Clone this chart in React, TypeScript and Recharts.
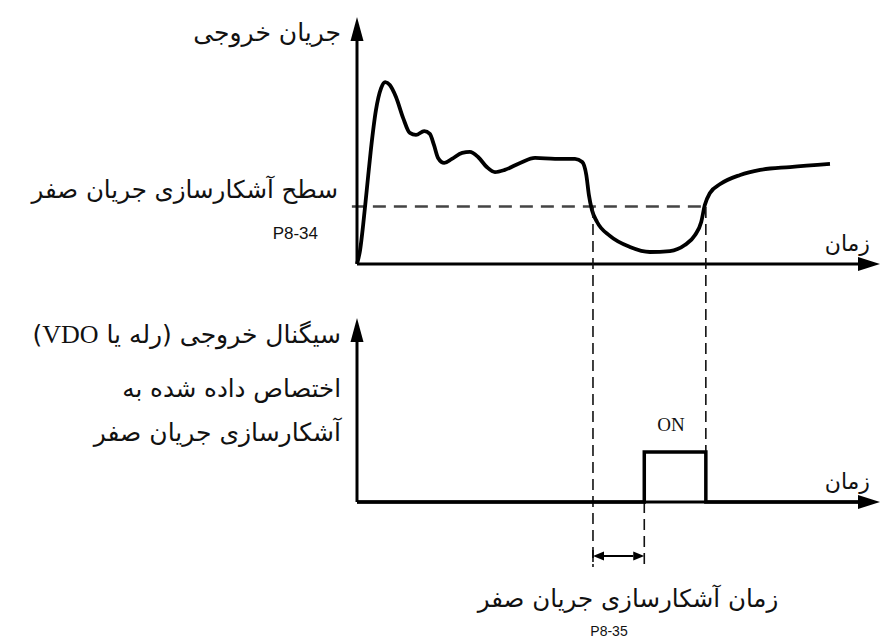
import React from "react";
import { LineChart, Line, XAxis, YAxis, ReferenceLine } from "recharts";

// output current over time (time 0..100, current 0..100)
const currentTime = [
  0, 0.6, 1.2, 1.9, 2.7, 3.7, 4.7, 5.5, 6.4, 7.6, 9.0, 10.3, 11.5, 13.1, 14.2, 15.0,
  15.8, 17.0, 18.5, 20.5, 22.0, 23.6, 25.3, 26.9, 28.8, 31.8, 34.7, 38.6, 42.5, 43.9,
  44.7, 45.2, 45.8, 46.8, 49.3, 53.2, 57.1, 61.0, 63.9, 65.9, 67.1, 67.8, 68.8, 70.8,
  74.7, 78.6, 84.4, 92.2,
];
const currentLevel = [
  0, 5.8, 16.3, 30.8, 47.5, 64.2, 73.3, 75.8, 74.6, 69.6, 60.8, 54.6, 53.8, 55.4, 54.2, 49.6,
  44.2, 42.1, 43.8, 46.3, 46.7, 44.6, 40.4, 38.3, 39.2, 42.1, 44.2, 43.8, 43.8, 42.5,
  37.1, 28.8, 22.5, 17.5, 11.7, 7.1, 5.0, 5.4, 7.9, 12.1, 17.5, 24.6, 29.6, 33.3,
  37.1, 39.2, 40.4, 41.7,
];

// relay / VDO output signal
const signalTime = [0, 56, 68, 100];
const signalLevel = [0, 1, 0, 0];

const thresholdLevel = 24; // P8-34
const belowThresholdAt = 46;
const signalOnAt = 56; // after P8-35 delay
const aboveThresholdAt = 68;

const currentData = currentTime.map((t, i) => ({ t, current: currentLevel[i] }));
const signalData = signalTime.map((t, i) => ({ t, signal: signalLevel[i] }));

const persianFont = "'DejaVu Sans', sans-serif";

function arrowShape(extra: number, width: number, len: number, sw: number, both = false) {
  return (p: any) => {
    const x1 = Number(p.x1), y1 = Number(p.y1), x2 = Number(p.x2), y2 = Number(p.y2);
    const dx = x2 - x1, dy = y2 - y1;
    const L = Math.hypot(dx, dy) || 1;
    const ux = dx / L, uy = dy / L;
    const nx = -uy, ny = ux;
    const head = (tx: number, ty: number, dirx: number, diry: number) => {
      const bx = tx - dirx * len, by = ty - diry * len;
      return `${tx},${ty} ${bx + (nx * width) / 2},${by + (ny * width) / 2} ${bx - (nx * width) / 2},${by - (ny * width) / 2}`;
    };
    const tipX = x2 + ux * extra, tipY = y2 + uy * extra;
    const startX = both ? x1 + ux * len : x1, startY = both ? y1 + uy * len : y1;
    return (
      <g>
        <line x1={startX} y1={startY} x2={tipX - ux * len} y2={tipY - uy * len} stroke="#000" strokeWidth={sw} />
        <polygon points={head(tipX, tipY, ux, uy)} fill="#000" />
        {both && <polygon points={head(x1, y1, -ux, -uy)} fill="#000" />}
        {both && <line x1={x1} y1={y1 - 6} x2={x1} y2={y1 + 6} stroke="#000" strokeWidth={1.5} />}
      </g>
    );
  };
}

function Txt({ right, cy, size, children, font = persianFont }: any) {
  return (
    <div
      dir="rtl"
      style={{
        position: "absolute",
        right: 880 - right,
        top: cy - size * 0.75,
        height: size * 1.5,
        lineHeight: `${size * 1.5}px`,
        fontSize: size,
        fontFamily: font,
        whiteSpace: "nowrap",
        color: "#111",
      }}
    >
      {children}
    </div>
  );
}

function CenterTxt({ cx, cy, size, children, font = persianFont, ltr = false }: any) {
  return (
    <div
      dir={ltr ? "ltr" : "rtl"}
      style={{
        position: "absolute",
        left: cx - 200,
        width: 400,
        textAlign: "center",
        top: cy - size * 0.75,
        lineHeight: `${size * 1.5}px`,
        fontSize: size,
        fontFamily: font,
        whiteSpace: "nowrap",
        color: "#111",
      }}
    >
      {children}
    </div>
  );
}

export default function App() {
  return (
    <div style={{ position: "absolute", left: 0, top: 0, width: 880, height: 641, background: "#fff", overflow: "hidden" }}>
      <style>{`.recharts-surface{overflow:visible}`}</style>

      <div style={{ position: "absolute", left: 0, top: 0 }}>
        <LineChart width={880} height={280} data={currentData} margin={{ top: 24, right: 10, left: 357, bottom: 16 }}>
          <XAxis dataKey="t" type="number" domain={[0, 100]} hide />
          <YAxis type="number" domain={[0, 100]} hide />
          <ReferenceLine
            segment={[{ x: -1, y: thresholdLevel }, { x: aboveThresholdAt, y: thresholdLevel }]}
            ifOverflow="visible"
            stroke="#444"
            strokeWidth={2.5}
            strokeDasharray="13 8"
          />
          <ReferenceLine segment={[{ x: 0, y: 0 }, { x: 100, y: 0 }]} ifOverflow="visible" shape={arrowShape(10, 14, 22, 3)} />
          <ReferenceLine segment={[{ x: 0, y: 0 }, { x: 0, y: 100 }]} ifOverflow="visible" shape={arrowShape(7, 13, 24, 3)} />
          <Line
            dataKey="current"
            type="monotone"
            stroke="#000"
            strokeWidth={3.8}
            dot={false}
            activeDot={false}
            isAnimationActive={false}
          />
        </LineChart>
      </div>

      <div style={{ position: "absolute", left: 0, top: 300 }}>
        <LineChart width={880} height={341} data={signalData} margin={{ top: 27, right: 10, left: 357, bottom: 139 }}>
          <XAxis dataKey="t" type="number" domain={[0, 100]} hide />
          <YAxis type="number" domain={[0, 3.5]} hide />
          <ReferenceLine
            segment={[{ x: belowThresholdAt, y: 5.9 }, { x: belowThresholdAt, y: -1.3 }]}
            ifOverflow="visible"
            stroke="#111"
            strokeWidth={1.6}
            strokeDasharray="11 6"
          />
          <ReferenceLine
            segment={[{ x: aboveThresholdAt, y: 5.9 }, { x: aboveThresholdAt, y: 1 }]}
            ifOverflow="visible"
            stroke="#111"
            strokeWidth={1.6}
            strokeDasharray="11 6"
          />
          <ReferenceLine
            segment={[{ x: signalOnAt, y: 0 }, { x: signalOnAt, y: -1.3 }]}
            ifOverflow="visible"
            stroke="#111"
            strokeWidth={1.6}
            strokeDasharray="11 6"
          />
          <ReferenceLine
            segment={[{ x: belowThresholdAt, y: -1.08 }, { x: signalOnAt, y: -1.08 }]}
            ifOverflow="visible"
            shape={arrowShape(0, 9, 11, 2, true)}
          />
          <ReferenceLine segment={[{ x: 0, y: 0 }, { x: 100, y: 0 }]} ifOverflow="visible" shape={arrowShape(10, 14, 22, 3)} />
          <ReferenceLine segment={[{ x: 0, y: 0 }, { x: 0, y: 3.5 }]} ifOverflow="visible" shape={arrowShape(9, 13, 24, 3)} />
          <Line
            dataKey="signal"
            type="stepAfter"
            stroke="#000"
            strokeWidth={3.5}
            dot={false}
            activeDot={false}
            isAnimationActive={false}
          />
        </LineChart>
      </div>

      <Txt right={341} cy={33} size={25}>جریان خروجی</Txt>
      <Txt right={338} cy={190} size={24.5}>سطح آشکارسازی جریان صفر</Txt>
      <Txt right={318} cy={234} size={17} font="'Liberation Sans', Arial, sans-serif">
        <span dir="ltr">P8-34</span>
      </Txt>
      <Txt right={870} cy={243} size={22}>زمان</Txt>

      <Txt right={341} cy={335} size={25}>
        سیگنال خروجی (رله یا <span style={{ fontFamily: "'Liberation Serif', serif", fontSize: 26 }}>VDO</span>)
      </Txt>
      <Txt right={341} cy={389} size={24.5}>اختصاص داده شده به</Txt>
      <Txt right={341} cy={433} size={25}>آشکارسازی جریان صفر</Txt>
      <CenterTxt cx={671} cy={425} size={19} font="'Liberation Serif', serif" ltr>ON</CenterTxt>
      <Txt right={870} cy={481} size={22}>زمان</Txt>

      <CenterTxt cx={628} cy={599} size={24.5}>زمان آشکارسازی جریان صفر</CenterTxt>
      <CenterTxt cx={609} cy={631} size={14} font="'Liberation Sans', Arial, sans-serif" ltr>P8-35</CenterTxt>
    </div>
  );
}
